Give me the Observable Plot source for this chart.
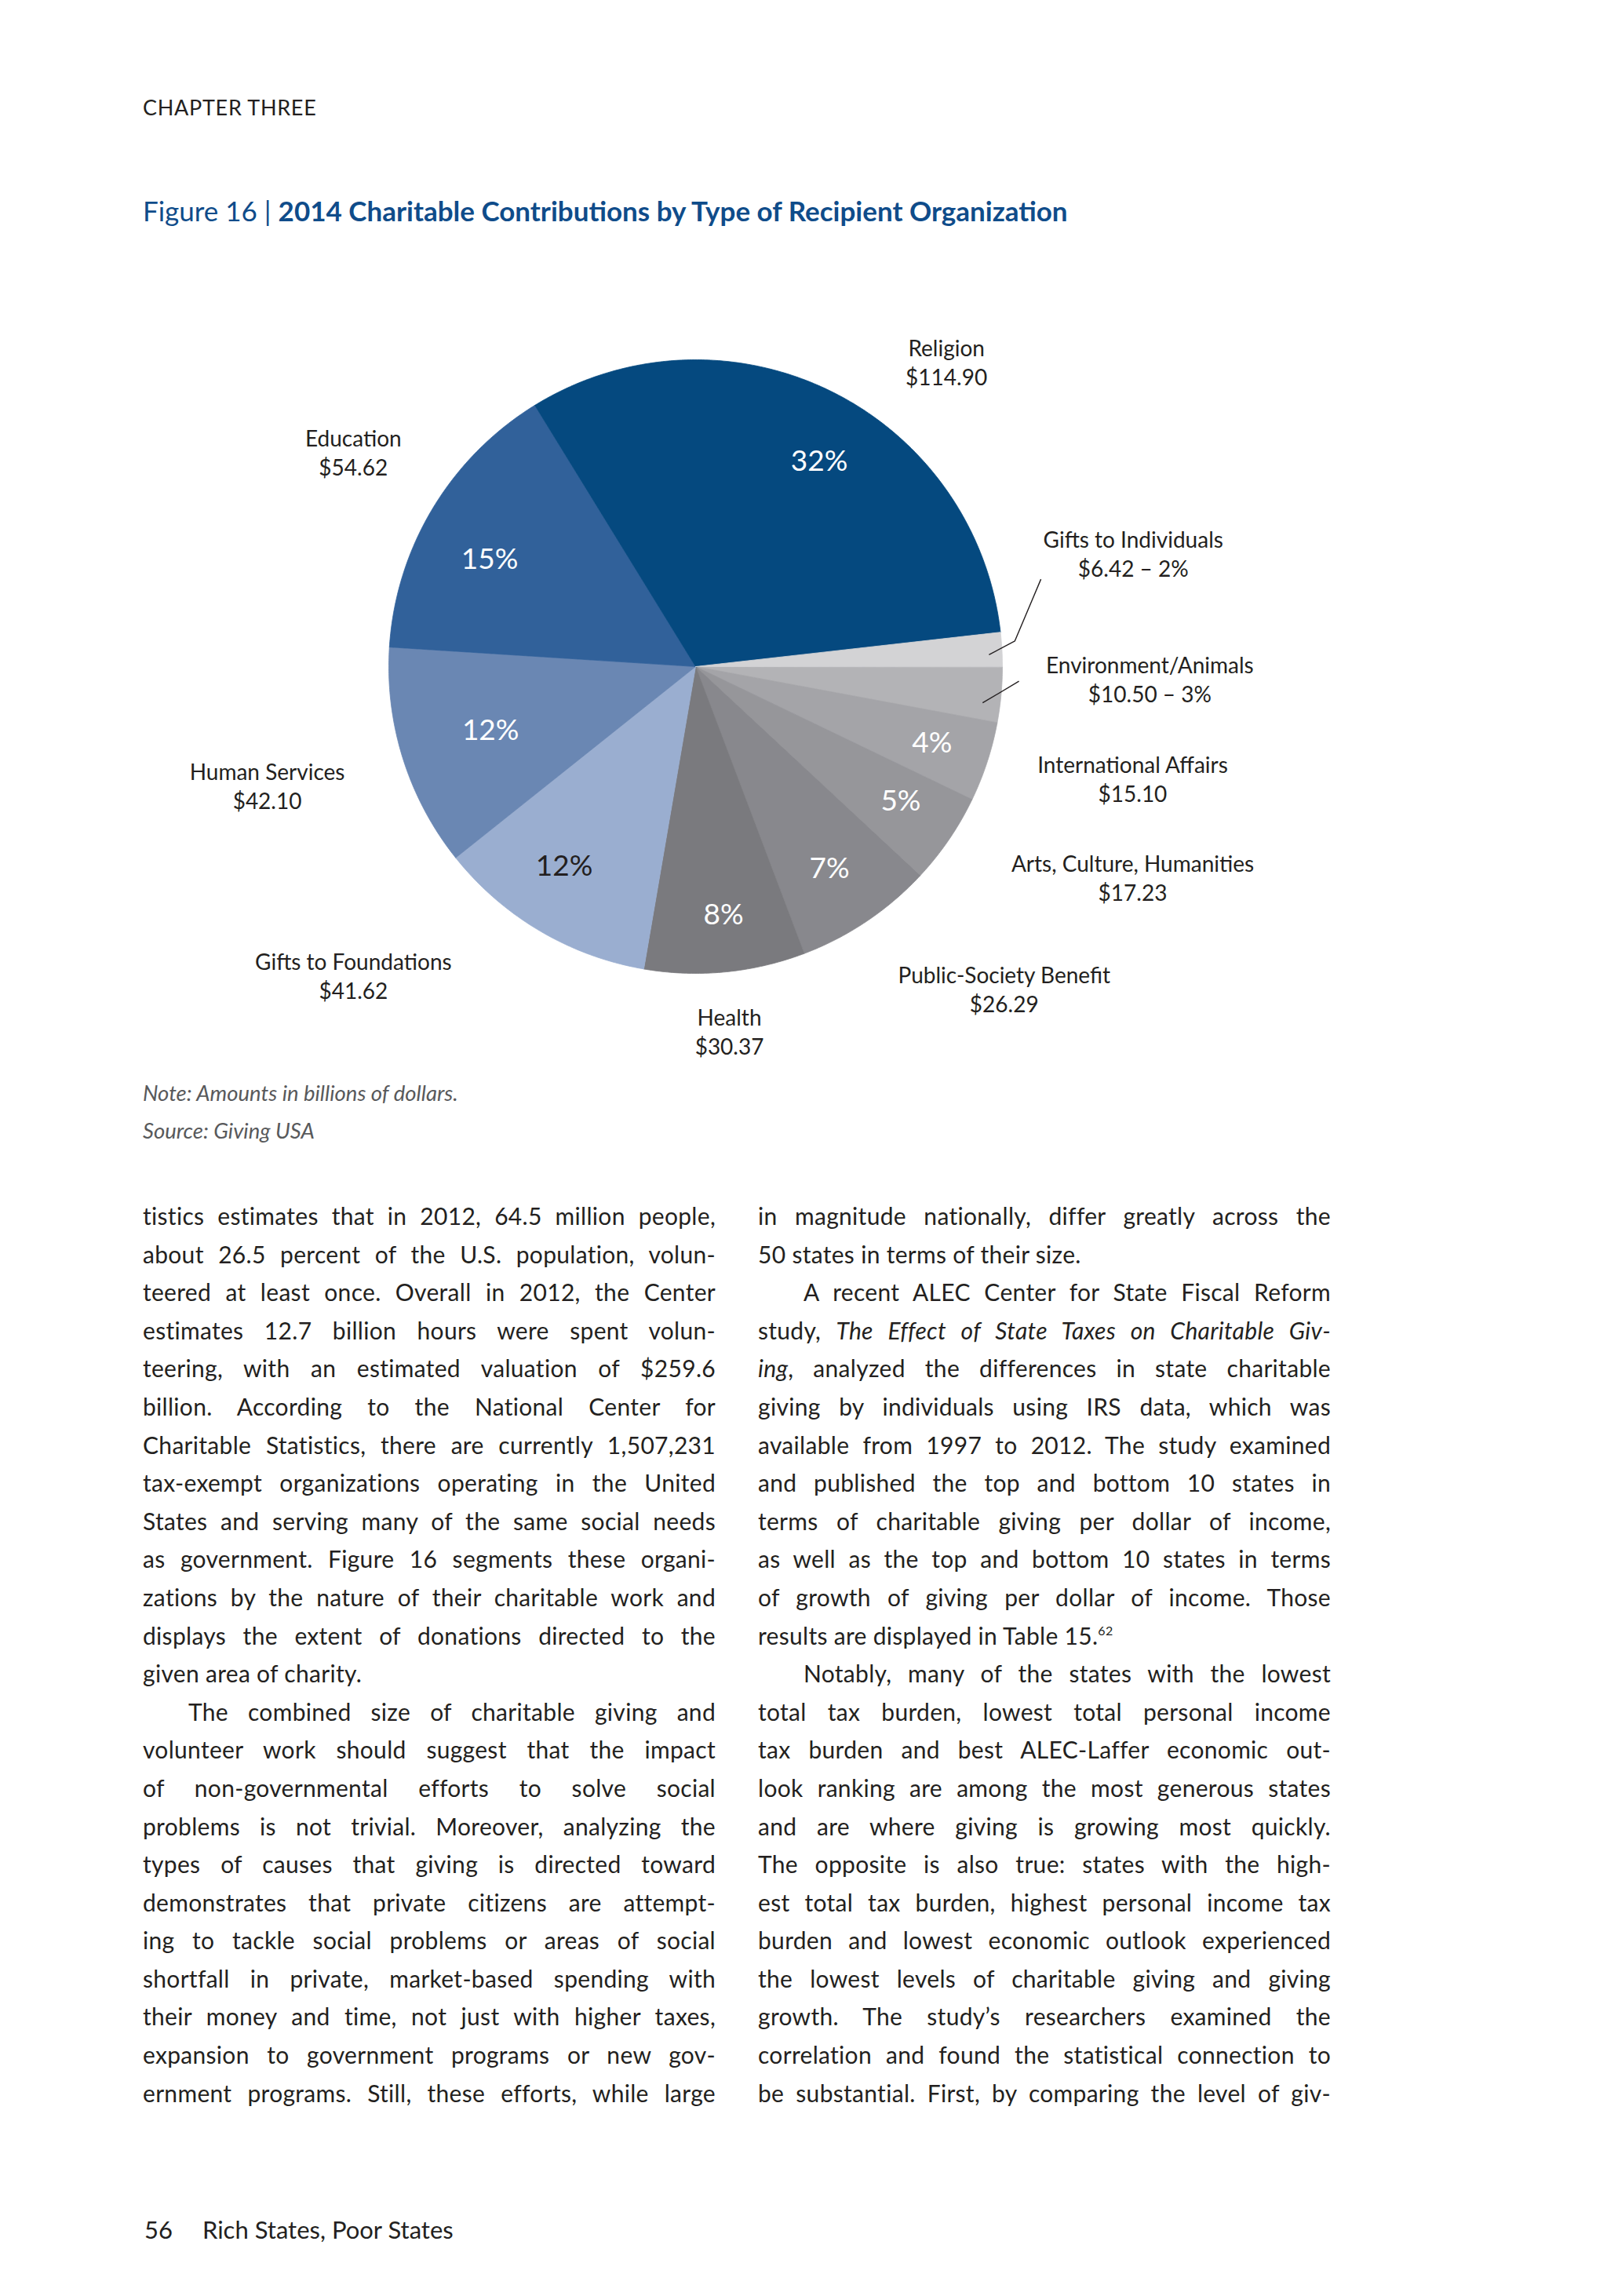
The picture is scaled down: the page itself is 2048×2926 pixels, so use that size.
<!DOCTYPE html>
<html>
<head>
<meta charset="utf-8">
<script src="https://cdn.jsdelivr.net/npm/d3@7"></script>
<script src="https://cdn.jsdelivr.net/npm/@observablehq/plot@0.6"></script>
<style>
  html, body { margin: 0; padding: 0; background: #fff; }
  #page { position: relative; width: 2048px; height: 2926px; background: #fff; font-family: Lato, "Open Sans", sans-serif; color: #231f20; overflow: hidden; }
  .abs { position: absolute; white-space: nowrap; }
  #chapter { left: 182px; top: 123px; font-size: 27px; line-height: 27px; letter-spacing: 0.7px; }
  #title { left: 182px; top: 251px; font-size: 35px; line-height: 35px; color: #0f4c8a; }
  #title b { font-weight: 700; }
  #chart { position: absolute; left: 0; top: 380px; }
  .note { left: 182px; font-size: 27.5px; line-height: 27.5px; font-style: italic; color: #58595b; }
  .col { position: absolute; top: 1525px; width: 730px; font-size: 30px; line-height: 48.6px; }
  .ln { text-align: justify; text-align-last: justify; height: 48.6px; overflow: visible; }
  .ln.last { text-align-last: left; }
  .ln.ind { text-indent: 58px; }
  sup { font-size: 16px; line-height: 0; vertical-align: 12px; }
  #footer { left: 184px; top: 2826px; font-size: 31px; line-height: 31px; }
</style>
</head>
<body>
<div id="page">
  <div id="chapter" class="abs">CHAPTER THREE</div>
  <div id="title" class="abs">Figure 16 | <b>2014 Charitable Contributions by Type of Recipient Organization</b></div>
  <div id="chart"></div>
  <div class="abs note" style="top:1379px">Note: Amounts in billions of dollars.</div>
  <div class="abs note" style="top:1427px">Source: Giving USA</div>

  <div class="col" style="left:182px">
    <div class="ln">tistics estimates that in 2012, 64.5 million people,</div>
    <div class="ln">about 26.5 percent of the U.S. population, volun-</div>
    <div class="ln">teered at least once. Overall in 2012, the Center</div>
    <div class="ln">estimates 12.7 billion hours were spent volun-</div>
    <div class="ln">teering, with an estimated valuation of $259.6</div>
    <div class="ln">billion. According to the National Center for</div>
    <div class="ln">Charitable Statistics, there are currently 1,507,231</div>
    <div class="ln">tax-exempt organizations operating in the United</div>
    <div class="ln">States and serving many of the same social needs</div>
    <div class="ln">as government. Figure 16 segments these organi-</div>
    <div class="ln">zations by the nature of their charitable work and</div>
    <div class="ln">displays the extent of donations directed to the</div>
    <div class="ln last">given area of charity.</div>
    <div class="ln ind">The combined size of charitable giving and</div>
    <div class="ln">volunteer work should suggest that the impact</div>
    <div class="ln">of non-governmental efforts to solve social</div>
    <div class="ln">problems is not trivial. Moreover, analyzing the</div>
    <div class="ln">types of causes that giving is directed toward</div>
    <div class="ln">demonstrates that private citizens are attempt-</div>
    <div class="ln">ing to tackle social problems or areas of social</div>
    <div class="ln">shortfall in private, market-based spending with</div>
    <div class="ln">their money and time, not just with higher taxes,</div>
    <div class="ln">expansion to government programs or new gov-</div>
    <div class="ln">ernment programs. Still, these efforts, while large</div>
  </div>

  <div class="col" style="left:966px">
    <div class="ln">in magnitude nationally, differ greatly across the</div>
    <div class="ln last">50 states in terms of their size.</div>
    <div class="ln ind">A recent ALEC Center for State Fiscal Reform</div>
    <div class="ln">study, <i>The Effect of State Taxes on Charitable Giv-</i></div>
    <div class="ln"><i>ing</i>, analyzed the differences in state charitable</div>
    <div class="ln">giving by individuals using IRS data, which was</div>
    <div class="ln">available from 1997 to 2012. The study examined</div>
    <div class="ln">and published the top and bottom 10 states in</div>
    <div class="ln">terms of charitable giving per dollar of income,</div>
    <div class="ln">as well as the top and bottom 10 states in terms</div>
    <div class="ln">of growth of giving per dollar of income. Those</div>
    <div class="ln last">results are displayed in Table 15.<sup>62</sup></div>
    <div class="ln ind">Notably, many of the states with the lowest</div>
    <div class="ln">total tax burden, lowest total personal income</div>
    <div class="ln">tax burden and best ALEC-Laffer economic out-</div>
    <div class="ln">look ranking are among the most generous states</div>
    <div class="ln">and are where giving is growing most quickly.</div>
    <div class="ln">The opposite is also true: states with the high-</div>
    <div class="ln">est total tax burden, highest personal income tax</div>
    <div class="ln">burden and lowest economic outlook experienced</div>
    <div class="ln">the lowest levels of charitable giving and giving</div>
    <div class="ln">growth. The study’s researchers examined the</div>
    <div class="ln">correlation and found the statistical connection to</div>
    <div class="ln">be substantial. First, by comparing the level of giv-</div>
  </div>

  <div id="footer" class="abs">56<span style="display:inline-block;width:38px"></span>Rich States, Poor States</div>
</div>

<script>
// ---------- DATA (billions of dollars, 2014) ----------
const categories = ["Environment/Animals", "International Affairs", "Arts, Culture, Humanities",
  "Public-Society Benefit", "Health", "Gifts to Foundations", "Human Services", "Education",
  "Religion", "Gifts to Individuals"];
const amounts = [10.50, 15.10, 17.23, 26.29, 30.37, 41.62, 42.10, 54.62, 114.90, 6.42];

// ---------- STYLE / LAYOUT ----------
const colors = ["#b3b3b6", "#a4a4a8", "#96969a", "#88888d", "#7a7a7e",
  "#9aaed0", "#6a87b3", "#31619a", "#05497f", "#d3d3d5"];
const pctInside = [false, true, true, true, true, true, true, true, true, false];
const pctColor = ["#fff", "#fff", "#fff", "#fff", "#fff", "#231f20", "#fff", "#fff", "#fff", "#fff"];
// percentage label placement (polar: angle clockwise from 12 o'clock in degrees, distance in radii)
const pctAngle = [0, 107.9, 123.3, 146.5, 173.6, 213.3, 252.7, 297.4, 31.1, 0];
const pctDist = [0, 0.81, 0.80, 0.79, 0.815, 0.78, 0.70, 0.756, 0.78, 0];
// outside label placement
const labelAngle = [91.5, 104.3, 115.7, 136.2, 174.7, 228.0, 254.5, 302.1, 39.4, 75.4];
const labelDist = [1.481, 1.470, 1.581, 1.453, 1.192, 1.501, 1.449, 1.317, 1.288, 1.474];
// leader lines (polar) for the two small slices
const leaders = [
  {name: "Gifts to Individuals", pts: [[87.7, 0.957], [85.4, 1.044], [75.8, 1.161]]},
  {name: "Environment/Animals", pts: [[97.2, 0.943], [92.6, 1.055]]}
];
const START = 90;       // first slice starts at 3 o'clock, clockwise
const W = 2048, H = 1000, R = 391, CX = 886, CY = 469;

// ---------- GEOMETRY ----------
const total = d3.sum(amounts);
let acc = 0;
const slices = categories.map((name, i) => {
  const a0 = START + acc / total * 360;
  acc += amounts[i];
  const a1 = START + acc / total * 360;
  return {name, i, a0, a1, mid: (a0 + a1) / 2, pct: Math.round(amounts[i] / total * 100)};
});
const polar = (deg, r) => [r * Math.sin(deg * Math.PI / 180), r * Math.cos(deg * Math.PI / 180)];

const piePts = slices.flatMap(s => {
  const pts = [{name: s.name, x: 0, y: 0}];
  const n = Math.max(2, Math.ceil((s.a1 - s.a0) / 0.5));
  for (let k = 0; k <= n; k++) {
    const [x, y] = polar(s.a0 + (s.a1 - s.a0) * k / n, 1);
    pts.push({name: s.name, x, y});
  }
  return pts;
});

const pctLabels = slices.filter(s => pctInside[s.i]).map(s => {
  const [x, y] = polar(pctAngle[s.i], pctDist[s.i]);
  return {x, y, text: s.pct + "%", color: pctColor[s.i]};
});

const outLabels = slices.map(s => {
  const [x, y] = polar(labelAngle[s.i], labelDist[s.i]);
  const amt = "$" + amounts[s.i].toFixed(2);
  const text = s.name + "\n" + (pctInside[s.i] ? amt : amt + " \u2013 " + s.pct + "%");
  return {x, y, text};
});

const leaderPts = leaders.flatMap(l => l.pts.map(([a, r]) => {
  const [x, y] = polar(a, r);
  return {name: l.name, x, y};
}));

const chart = Plot.plot({
  width: W, height: H,
  margin: 0,
  style: {fontFamily: "Lato, 'Open Sans', sans-serif", background: "transparent"},
  x: {domain: [-CX / R, (W - CX) / R], axis: null},
  y: {domain: [-(H - CY) / R, CY / R], axis: null},
  color: {type: "ordinal", domain: categories, range: colors},
  marks: [
    Plot.line(piePts, {x: "x", y: "y", z: "name", fill: "name", stroke: "name", strokeWidth: 0.8, curve: "linear-closed"}),
    Plot.line(leaderPts, {x: "x", y: "y", z: "name", stroke: "#231f20", strokeWidth: 1.4, strokeLinecap: "butt"}),
    Plot.text(pctLabels, {x: "x", y: "y", text: "text", fill: "color", fontSize: 37, textAnchor: "middle"}),
    Plot.text(outLabels, {x: "x", y: "y", text: "text", fill: "#231f20", fontSize: 28, lineHeight: 1.32, textAnchor: "middle"})
  ]
});
document.getElementById("chart").appendChild(chart);

// keep each body line on one line: start slightly loose, tighten letters if the line would wrap
document.querySelectorAll(".ln").forEach(el => {
  let ls = 0.3;
  el.style.letterSpacing = ls + "px";
  while (el.scrollHeight > 60 && ls > -3) {
    ls -= 0.1;
    el.style.letterSpacing = ls.toFixed(2) + "px";
  }
});
</script>
</body>
</html>
